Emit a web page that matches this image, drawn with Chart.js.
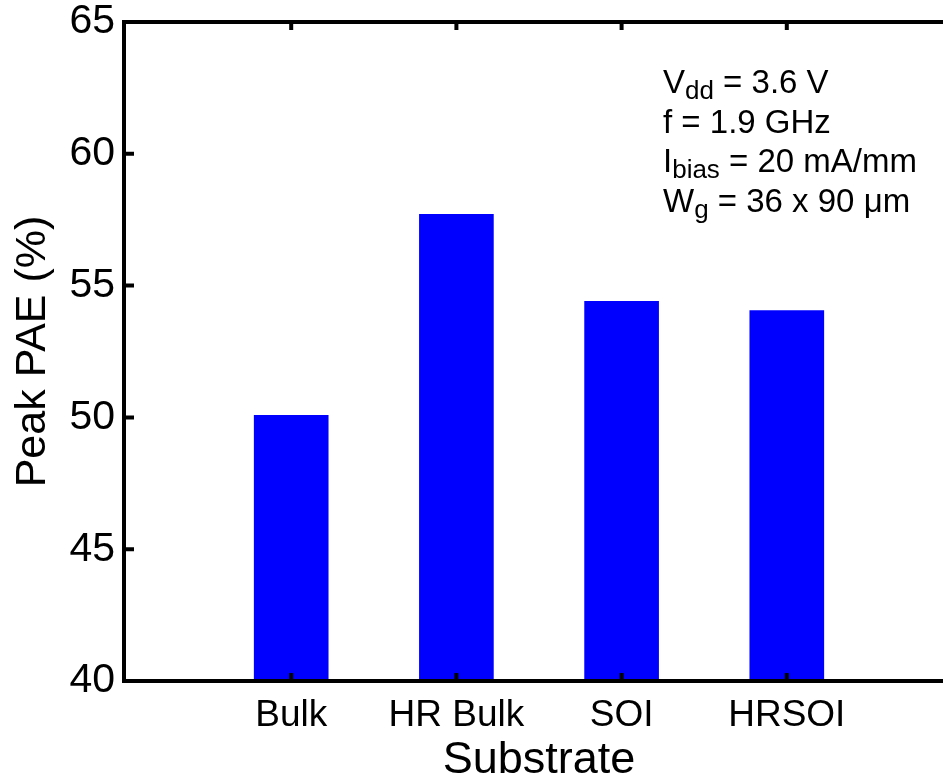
<!DOCTYPE html>
<html lang="en">
<head>
    <meta charset="UTF-8">
    <title>Peak PAE by Substrate</title>
    <script src="https://cdn.jsdelivr.net/npm/chart.js"></script>
    <style>
        body { margin: 0; background: white; overflow: hidden; }
        canvas { display: block; }
    </style>
</head>
<body>
    <canvas id="paeChart" width="962" height="784"></canvas>

    <script>
        // values
        const categories = ['Bulk', 'HR Bulk', 'SOI', 'HRSOI'];
        const peakPAE = [50.08, 57.7, 54.4, 54.05];
        const yTicks = [40, 45, 50, 55, 60, 65];
        const notes = [
            [{ t: 'V' }, { t: 'dd', sub: true }, { t: ' = 3.6 V' }],
            [{ t: 'f = 1.9 GHz' }],
            [{ t: 'I' }, { t: 'bias', sub: true }, { t: ' = 20 mA/mm' }],
            [{ t: 'W' }, { t: 'g', sub: true }, { t: ' = 36 x 90 \u03bcm' }]
        ];

        const FONT = '"Liberation Sans", Arial, Helvetica, sans-serif';

        // empty slots at both ends so the bars sit at x = 1..4 on a 0..5 axis
        const labels = [''].concat(categories, ['']);
        const values = [null].concat(peakPAE, [null]);

        // box round the plot, ticks pointing inward, and the text block
        const frame = {
            id: 'frame',
            afterDatasetsDraw(chart) {
                const { ctx, chartArea: a, scales } = chart;
                ctx.save();
                ctx.strokeStyle = '#000';
                ctx.lineWidth = 4;
                ctx.beginPath();
                yTicks.forEach(v => {
                    const y = scales.y.getPixelForValue(v);
                    ctx.moveTo(a.left, y); ctx.lineTo(a.left + 8, y);
                    ctx.moveTo(a.right, y); ctx.lineTo(a.right - 8, y);
                });
                categories.forEach((c, i) => {
                    const x = scales.x.getPixelForValue(i + 1);
                    ctx.moveTo(x, a.top); ctx.lineTo(x, a.top + 8);
                    ctx.moveTo(x, a.bottom); ctx.lineTo(x, a.bottom - 8);
                });
                ctx.stroke();
                ctx.strokeRect(a.left - 2, a.top, a.right - a.left + 2, a.bottom - a.top);

                ctx.fillStyle = '#000';
                ctx.textBaseline = 'alphabetic';
                notes.forEach((line, i) => {
                    let x = 663;
                    const y = 93 + i * 39.7;
                    line.forEach(seg => {
                        ctx.font = (seg.sub ? '26px ' : '33px ') + FONT;
                        ctx.fillText(seg.t, x, seg.sub ? y + 6 : y);
                        x += ctx.measureText(seg.t).width;
                    });
                });
                ctx.restore();
            }
        };

        new Chart(document.getElementById('paeChart'), {
            type: 'bar',
            data: {
                labels: labels,
                datasets: [{
                    data: values,
                    backgroundColor: '#0000ff',
                    borderWidth: 0,
                    barThickness: 74
                }]
            },
            options: {
                responsive: false,
                animation: false,
                layout: { padding: { top: 22, right: 10, left: 0, bottom: 0 } },
                plugins: { legend: { display: false }, tooltip: { enabled: false } },
                scales: {
                    x: {
                        offset: false,
                        grid: { display: false, drawTicks: false },
                        border: { display: false },
                        ticks: { color: '#000', font: { family: FONT, size: 37 }, padding: 13, maxRotation: 0, autoSkip: false },
                        title: { display: true, text: 'Substrate', color: '#000', font: { family: FONT, size: 45, lineHeight: 1.05 }, padding: { top: 0, bottom: 0 } },
                        afterFit(scale) { scale.height = 103; scale.paddingLeft = 0; scale.paddingRight = 0; }
                    },
                    y: {
                        min: 40,
                        max: 65,
                        grid: { display: false, drawTicks: false },
                        border: { display: false },
                        afterBuildTicks(scale) { scale.ticks = yTicks.map(v => ({ value: v })); },
                        ticks: { color: '#000', font: { family: FONT, size: 41 }, padding: 11 },
                        title: { display: true, text: 'Peak PAE (%)', color: '#000', font: { family: FONT, size: 43 }, padding: { top: 7, bottom: 0 } },
                        afterFit(scale) { scale.width = 126; scale.paddingTop = 0; scale.paddingBottom = 0; }
                    }
                }
            },
            plugins: [frame]
        });
    </script>
</body>
</html>
